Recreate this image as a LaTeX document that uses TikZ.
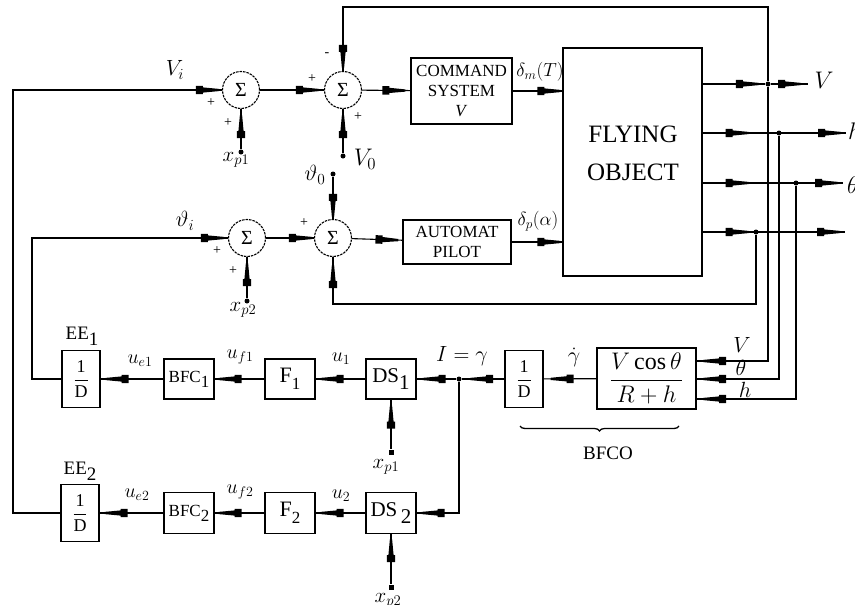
\RequirePackage{fix-cm}
\documentclass[tikz,border=0pt]{standalone}
\usepackage{fontspec}
\setmainfont{Liberation Serif}
\usetikzlibrary{decorations.markings,decorations.pathreplacing}

% chunky arrow head placed on a wire
\newcommand{\flowhead}{\fill (-12pt,-4.2pt) -- (-5pt,-4.2pt) -- (-5pt,-2.6pt) -- (11pt,-1.1pt) -- (11pt,1.1pt) -- (-5pt,2.6pt) -- (-5pt,4.2pt) -- (-12pt,4.2pt) -- cycle;}
\newcommand{\low}[1]{\raisebox{-0.3em}{#1}}
\newcommand{\setfs}[1]{\fontsize{#1}{#1}\selectfont}
\newcommand{\invD}{$\displaystyle\frac{\textrm{1}}{\textrm{D}}$}

\begin{document}
\begin{tikzpicture}[x=1pt,y=-1pt,line width=1.1pt]
    % Define styles
    \tikzset{
        sumnode/.style={circle, draw, dash pattern=on 2.5pt off 1pt, minimum size=37pt, inner sep=0pt, font=\setfs{20}},
        blockbox/.style={draw, inner sep=0pt, align=center},
        smallbox/.style={blockbox, minimum width=50pt, minimum height=40pt},
        intbox/.style={blockbox, minimum width=38pt, minimum height=57pt, font=\setfs{18}},
        flow/.style={postaction={decorate, decoration={markings, mark=at position #1 with {\flowhead}}}},
        sign/.style={font=\setfs{14}, inner sep=0pt},
        lbl/.style={font=\setfs{22}, inner sep=0pt},
        dot/.style={circle, fill, inner sep=0pt, minimum size=5pt},
        sqdot/.style={fill, inner sep=0pt, minimum size=5pt}
    }
    \useasboundingbox (0,0) rectangle (855,605);

    % Summing junctions
    \node[sumnode] (s1) at (241,90) {Σ};
    \node[sumnode] (s2) at (343,90) {Σ};
    \node[sumnode] (s3) at (247,238) {Σ};
    \node[sumnode] (s4) at (333,238) {Σ};

    % Upper blocks
    \node[blockbox, minimum width=101pt, minimum height=66pt, font=\fontsize{17}{20}\selectfont] (cmd) at (461.5,91) {COMMAND\\SYSTEM\\\textit{V}};
    \node[blockbox, minimum width=108pt, minimum height=44pt, font=\fontsize{17}{20}\selectfont] (ap) at (457,242) {AUTOMAT\\PILOT};
    \node[blockbox, minimum width=139pt, minimum height=228pt] (fly) at (632.5,162) {};
    \node[align=center, font=\fontsize{25}{38}\selectfont] (flytxt) at (633,153) {FLYING\\OBJECT};

    % Lower blocks
    \node[intbox] (ee1) at (81,379) {\invD};
    \node[smallbox, font=\setfs{17}] (bfc1) at (189,379) {BFC\low{1}};
    \node[smallbox, font=\setfs{22}] (f1) at (290,379) {F\low{\setfs{17}1}};
    \node[smallbox, font=\setfs{21}] (ds1) at (391,379) {DS\low{1}};
    \node[intbox] (ee2) at (80,513) {\invD};
    \node[smallbox, minimum height=41pt, font=\setfs{17}] (bfc2) at (189,513) {BFC\low{2}};
    \node[smallbox, minimum height=41pt, font=\setfs{22}] (f2) at (290,513) {F\low{\setfs{17}2}};
    \node[smallbox, minimum height=41pt, font=\setfs{21}] (ds2) at (391,513) {DS\,\low{2}};

    % BFCO blocks
    \node[intbox] (dint) at (524,379) {\invD};
    \node[blockbox, minimum width=99pt, minimum height=61pt, font=\setfs{24}] (frac) at (646.5,378.5) {$\displaystyle\frac{V\cos\theta}{R+h}$};

    % Branch points and free ends
    \node[dot] (o1) at (768,84) {};
    \node[dot] (o2) at (779,133) {};
    \node[dot] (o3) at (796,183) {};
    \node[dot] (o4) at (756,232) {};
    \node[dot] (jn) at (459,379) {};
    \node[dot] (xp1) at (241,152) {};
    \node[dot] (v0) at (343,156) {};
    \node[dot] (th0) at (333,174) {};
    \node[dot] (xp2) at (247,301) {};
    \node[sqdot] (xq1) at (391,452) {};
    \node[sqdot] (xq2) at (391,587) {};
    \coordinate (e1) at (808,84);
    \coordinate (e2) at (846,133);
    \coordinate (e3) at (843,183);
    \coordinate (e4) at (845,232);
    \coordinate (inV) at (696,361);
    \coordinate (inT) at (696,379);
    \coordinate (inH) at (696,399);

    % Forward paths
    \draw[flow=-14pt] (ee2) -| (13,90) -- (s1);
    \draw[flow=-15pt] (ee1) -| (32,238) -- (s3);
    \draw[flow=-16pt] (s1) -- (s2);
    \draw[flow=-16pt] (s2) -- (cmd);
    \draw[flow=-13pt] (cmd) -- (fly.west |- cmd);
    \draw[flow=-13pt] (s3) -- (s4);
    \draw[flow=-15pt] (s4) -- (ap);
    \draw[flow=-13pt] (ap) -- (fly.west |- ap);

    % Outer inputs
    \draw[flow=-17pt] (xp1) -- (s1);
    \draw[flow=-17pt] (v0) -- (s2);
    \draw[flow=-13pt] (th0) -- (s4);
    \draw[flow=-17pt] (xp2) -- (s3);
    \draw[flow=-17pt] (xq1) -- (ds1);
    \draw[flow=-16pt] (xq2) -- (ds2);

    % Outputs of the flying object
    \draw[flow=-17pt] (fly.east |- o1) -- (o1);
    \draw[flow=-18pt] (o1) -- (e1);
    \draw[flow=35pt, flow=-16pt] (fly.east |- o2) -- (e2);
    \draw[flow=35pt, flow=-16pt] (fly.east |- o3) -- (e3);
    \draw[flow=35pt, flow=-16pt] (fly.east |- o4) -- (e4);

    % Feedback loops
    \draw[flow=-14pt] (o1) -- (768,7) -| (s2);
    \draw[flow=-19pt] (o4) -- (756,304) -| (s4);
    \draw[flow=-18pt] (o1) |- (inV);
    \draw[flow=-18pt] (o2) |- (inT);
    \draw[flow=-18pt] (o3) |- (inH);

    % Lower chains
    \draw[flow=-18pt] (frac) -- (dint);
    \draw[flow=-19pt] (dint) -- (jn);
    \draw[flow=-17pt] (jn) -- (ds1);
    \draw[flow=-16pt] (jn) |- (ds2);
    \draw[flow=-16pt] (ds1) -- (f1);
    \draw[flow=-15pt] (f1) -- (bfc1);
    \draw[flow=-16pt] (bfc1) -- (ee1);
    \draw[flow=-16pt] (ds2) -- (f2);
    \draw[flow=-15pt] (f2) -- (bfc2);
    \draw[flow=-16pt] (bfc2) -- (ee2);

    % Signs at the summing junctions
    \foreach \px/\py/\sg in {211/103/+, 228/123/+, 312/79/+, 327/55/-, 358/117/+, 217/251/+, 233/271/+, 304/223/+}
        \node[sign] (sg\px) at (\px,\py) {\sg};

    % Signal labels
    \node[lbl] (lVi) at (175,70) {$V_i$};
    \node[lbl] (lthi) at (185,221) {$\vartheta_i$};
    \node[lbl, font=\setfs{21}] (lxp1) at (236,160) {$x_{p1}$};
    \node[lbl, font=\setfs{24}] (lV0) at (365,159) {$V_0$};
    \node[lbl] (lth0) at (315,175) {$\vartheta_0$};
    \node[lbl, font=\setfs{21}] (lxp2) at (243,310) {$x_{p2}$};
    \node[lbl, font=\setfs{19}] (ldm) at (540,72) {$\delta_m(T)$};
    \node[lbl, font=\setfs{19}] (ldp) at (538,221) {$\delta_p(\alpha)$};
    \node[lbl, font=\setfs{24}] (loV) at (824,80) {$V$};
    \node[lbl, font=\setfs{24}] (loh) at (855,131) {$h$};
    \node[lbl, font=\setfs{24}] (loth) at (853,185) {$\theta$};
    \node[lbl] (liV) at (742,345) {$V$};
    \node[lbl] (liT) at (741,368) {$\theta$};
    \node[lbl] (liH) at (745,390) {$h$};
    \node[lbl] (lgam) at (462,356) {$I=\gamma$};
    \node[lbl] (lgdot) at (574,357) {$\dot\gamma$};
    \node[lbl, font=\setfs{20}] (lue1) at (140,361) {$u_{e1}$};
    \node[lbl, font=\setfs{20}] (luf1) at (240,357) {$u_{f1}$};
    \node[lbl, font=\setfs{20}] (lu1) at (341,359) {$u_1$};
    \node[lbl, font=\setfs{20}] (lue2) at (137,495) {$u_{e2}$};
    \node[lbl, font=\setfs{20}] (luf2) at (240,492) {$u_{f2}$};
    \node[lbl, font=\setfs{20}] (lu2) at (341,496) {$u_2$};
    \node[lbl, font=\setfs{21}] (lxq1) at (386,467) {$x_{p1}$};
    \node[lbl, font=\setfs{21}] (lxq2) at (388,601) {$x_{p2}$};
    \node[lbl, font=\setfs{19}] (lee1) at (82,336) {EE\low{1}};
    \node[lbl, font=\setfs{19}] (lee2) at (80,471) {EE\low{2}};

    % Brace under the BFCO blocks
    \draw[line width=1.3pt, decorate, decoration={brace, amplitude=5pt}] (679,426) -- (520,426);
    \node[lbl, font=\setfs{19}] (lbfco) at (608,453) {BFCO};
\end{tikzpicture}
\end{document}
